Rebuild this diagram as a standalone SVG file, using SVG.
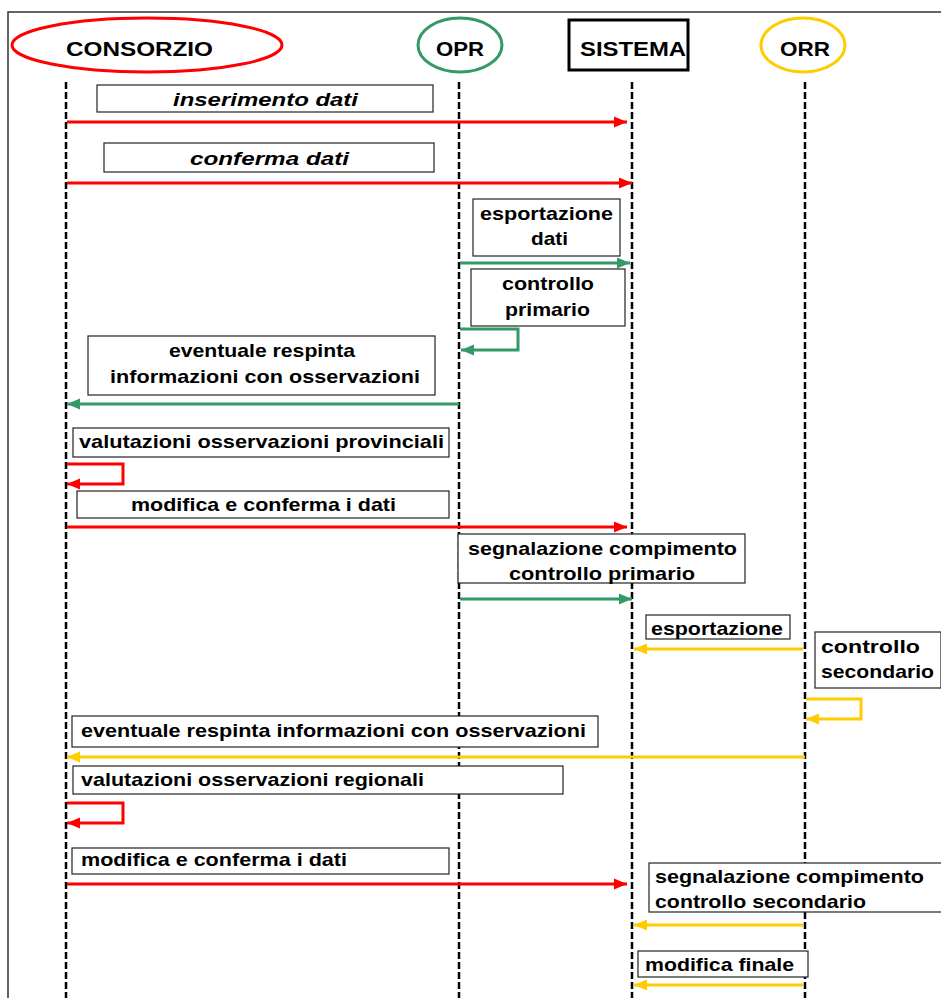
<svg xmlns="http://www.w3.org/2000/svg" width="941" height="998" viewBox="0 0 941 998">
<style>
.t{font-family:"Liberation Sans",Arial,sans-serif;font-weight:bold;font-size:19px;fill:#000}
.h{font-family:"Liberation Sans",Arial,sans-serif;font-weight:bold;font-size:21px;fill:#000}
.i{font-style:italic}
.box{fill:#fff;stroke:#222;stroke-width:1.2}
.life{stroke:#000;stroke-width:2.5;stroke-dasharray:7 3;fill:none}
.r{stroke:#ff0000;stroke-width:3;fill:none}
.g{stroke:#339966;stroke-width:3;fill:none}
.y{stroke:#ffcc00;stroke-width:3;fill:none}
</style>
<defs>
<marker id="ar" markerUnits="userSpaceOnUse" markerWidth="14" markerHeight="14" refX="13" refY="7" orient="auto"><path d="M0,1.5 L13,7 L0,12.5 Z" fill="#ff0000"/></marker>
<marker id="ag" markerUnits="userSpaceOnUse" markerWidth="14" markerHeight="14" refX="13" refY="7" orient="auto"><path d="M0,1.5 L13,7 L0,12.5 Z" fill="#339966"/></marker>
<marker id="ay" markerUnits="userSpaceOnUse" markerWidth="14" markerHeight="14" refX="13" refY="7" orient="auto"><path d="M0,1.5 L13,7 L0,12.5 Z" fill="#ffcc00"/></marker>
</defs>
<rect width="941" height="998" fill="#fff"/>
<path d="M8,998 V12 H941" fill="none" stroke="#333" stroke-width="1.5"/>

<g id="lifelines">
<line class="life" x1="66" y1="82" x2="66" y2="998"/>
<line class="life" x1="459" y1="82" x2="459" y2="998"/>
<line class="life" x1="632" y1="82" x2="632" y2="998"/>
<line class="life" x1="805" y1="82" x2="805" y2="998"/>
</g>

<g id="consorzio"><ellipse cx="147" cy="45" rx="135" ry="27" fill="#fff" stroke="#ff0000" stroke-width="3"/><text class="h" x="66" y="56" textLength="147" lengthAdjust="spacingAndGlyphs">CONSORZIO</text></g>
<g id="opr"><ellipse cx="460" cy="45" rx="42" ry="27" fill="#fff" stroke="#339966" stroke-width="3"/><text class="h" x="436" y="56" textLength="48" lengthAdjust="spacingAndGlyphs">OPR</text></g>
<g id="sistema"><rect x="569" y="20" width="119" height="50" fill="#fff" stroke="#000" stroke-width="3"/><text class="h" x="580" y="56" textLength="106" lengthAdjust="spacingAndGlyphs">SISTEMA</text></g>
<g id="orr"><ellipse cx="803" cy="45" rx="42" ry="27" fill="#fff" stroke="#ffcc00" stroke-width="3"/><text class="h" x="780" y="56" textLength="50" lengthAdjust="spacingAndGlyphs">ORR</text></g>

<g id="connectors">
<line class="r" x1="67" y1="122" x2="627" y2="122" marker-end="url(#ar)"/>
<line class="r" x1="67" y1="183" x2="632" y2="183" marker-end="url(#ar)"/>
<line class="g" x1="460" y1="263" x2="630" y2="263" marker-end="url(#ag)"/>
<path class="g" d="M460,329 H518 V350 H461" marker-end="url(#ag)"/>
<line class="g" x1="459" y1="404" x2="67" y2="404" marker-end="url(#ag)"/>
<path class="r" d="M67,464 H123 V484 H67" marker-end="url(#ar)"/>
<line class="r" x1="67" y1="527" x2="627" y2="527" marker-end="url(#ar)"/>
<line class="g" x1="460" y1="599" x2="632" y2="599" marker-end="url(#ag)"/>
<line class="y" x1="803" y1="649" x2="634" y2="649" marker-end="url(#ay)"/>
<path class="y" d="M806,699 H861 V719 H806" marker-end="url(#ay)"/>
<line class="y" x1="805" y1="757" x2="67" y2="757" marker-end="url(#ay)"/>
<path class="r" d="M67,803 H123 V823 H67" marker-end="url(#ar)"/>
<line class="r" x1="67" y1="884" x2="627" y2="884" marker-end="url(#ar)"/>
<line class="y" x1="803" y1="925" x2="634" y2="925" marker-end="url(#ay)"/>
<line class="y" x1="803" y1="985" x2="634" y2="985" marker-end="url(#ay)"/>
</g>

<g id="m1"><rect class="box" x="97" y="85" width="336" height="27"/><text class="t i" x="173" y="106" textLength="185" lengthAdjust="spacingAndGlyphs">inserimento dati</text></g>
<g id="m2"><rect class="box" x="104" y="143" width="330" height="29"/><text class="t i" x="190" y="165" textLength="159" lengthAdjust="spacingAndGlyphs">conferma dati</text></g>
<g id="m3"><rect class="box" x="473" y="199" width="147" height="57"/><text class="t" x="480" y="220" textLength="133" lengthAdjust="spacingAndGlyphs">esportazione</text><text class="t" x="531" y="245" textLength="37" lengthAdjust="spacingAndGlyphs">dati</text></g>
<g id="m4"><rect class="box" x="471" y="269" width="154" height="57"/><text class="t" x="502" y="290" textLength="92" lengthAdjust="spacingAndGlyphs">controllo</text><text class="t" x="505" y="316" textLength="85" lengthAdjust="spacingAndGlyphs">primario</text></g>
<g id="m5"><rect class="box" x="88" y="336" width="347" height="59"/><text class="t" x="169" y="357" textLength="186" lengthAdjust="spacingAndGlyphs">eventuale respinta</text><text class="t" x="110" y="383" textLength="310" lengthAdjust="spacingAndGlyphs">informazioni con osservazioni</text></g>
<g id="m6"><rect class="box" x="73" y="428" width="376" height="29"/><text class="t" x="79" y="448" textLength="365" lengthAdjust="spacingAndGlyphs">valutazioni osservazioni provinciali</text></g>
<g id="m7"><rect class="box" x="77" y="491" width="372" height="27"/><text class="t" x="131" y="511" textLength="265" lengthAdjust="spacingAndGlyphs">modifica e conferma i dati</text></g>
<g id="m8"><rect class="box" x="458" y="534" width="287" height="49"/><text class="t" x="468" y="555" textLength="269" lengthAdjust="spacingAndGlyphs">segnalazione compimento</text><text class="t" x="509" y="580" textLength="186" lengthAdjust="spacingAndGlyphs">controllo primario</text></g>
<g id="m9"><rect class="box" x="646" y="615" width="144" height="24"/><text class="t" x="651" y="635" textLength="132" lengthAdjust="spacingAndGlyphs">esportazione</text></g>
<g id="m10"><rect class="box" x="815" y="632" width="126" height="56"/><text class="t" x="821" y="653" textLength="99" lengthAdjust="spacingAndGlyphs">controllo</text><text class="t" x="821" y="678" textLength="113" lengthAdjust="spacingAndGlyphs">secondario</text></g>
<g id="m11"><rect class="box" x="72" y="716" width="526" height="31"/><text class="t" x="81" y="737" textLength="505" lengthAdjust="spacingAndGlyphs">eventuale respinta informazioni con osservazioni</text></g>
<g id="m12"><rect class="box" x="73" y="766" width="490" height="28"/><text class="t" x="81" y="786" textLength="343" lengthAdjust="spacingAndGlyphs">valutazioni osservazioni regionali</text></g>
<g id="m13"><rect class="box" x="72" y="848" width="377" height="26"/><text class="t" x="81" y="866" textLength="266" lengthAdjust="spacingAndGlyphs">modifica e conferma i dati</text></g>
<g id="m14"><rect class="box" x="649" y="863" width="300" height="49"/><text class="t" x="655" y="883" textLength="269" lengthAdjust="spacingAndGlyphs">segnalazione compimento</text><text class="t" x="655" y="908" textLength="211" lengthAdjust="spacingAndGlyphs">controllo secondario</text></g>
<g id="m15"><rect class="box" x="638" y="951" width="170" height="26"/><text class="t" x="645" y="971" textLength="149" lengthAdjust="spacingAndGlyphs">modifica finale</text></g>
</svg>
